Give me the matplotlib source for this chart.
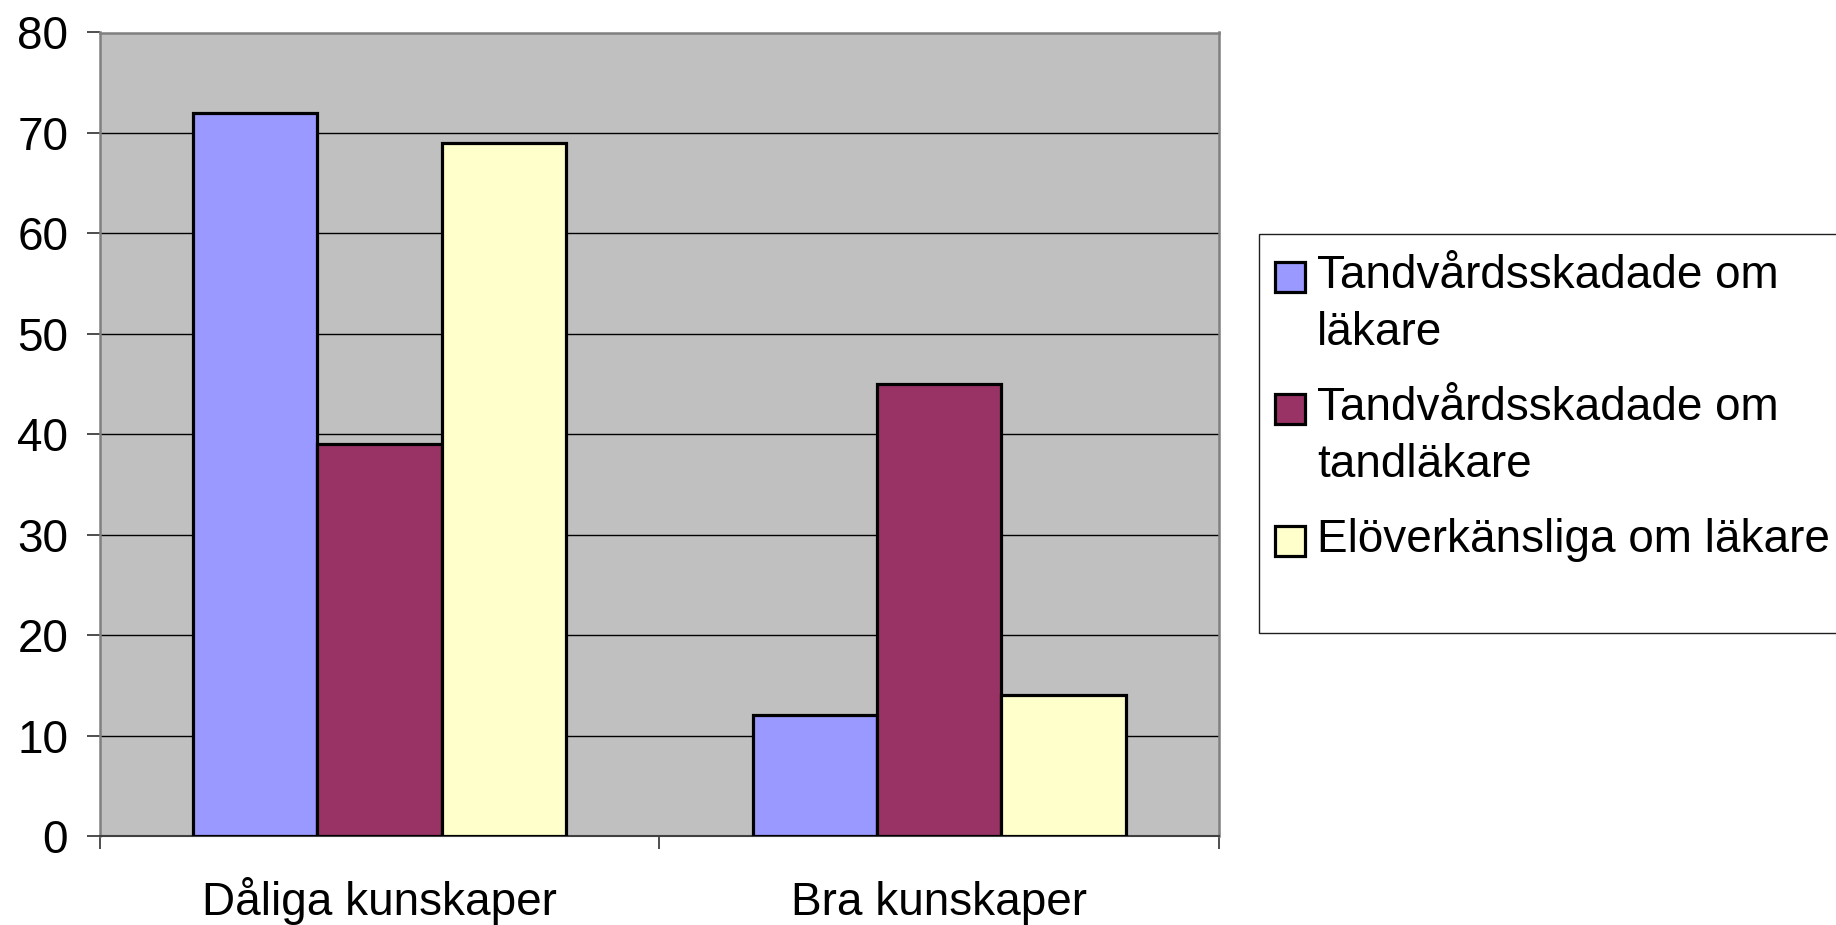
import matplotlib
matplotlib.use("Agg")
import matplotlib.pyplot as plt
from matplotlib.patches import Rectangle
import numpy as np

plt.rcParams['font.family'] = ['Liberation Sans', 'DejaVu Sans']

categories = ['Dåliga kunskaper', 'Bra kunskaper']
series_names = ['Tandvårdsskadade om\nläkare',
                'Tandvårdsskadade om\ntandläkare',
                'Elöverkänsliga om läkare']
values_lakare = [72, 12]
values_tandlakare = [39, 45]
values_elo = [69, 14]
colors = ['#9999FF', '#993366', '#FFFFCC']
yticks = [0, 10, 20, 30, 40, 50, 60, 70, 80]

W, H = 1836, 925
fig = plt.figure(figsize=(W / 100, H / 100), dpi=100)

# plot area in pixels (left, top, right, bottom)
L, T, R, B = 99.5, 32.5, 1219, 836
ax = fig.add_axes([L / W, 1 - B / H, (R - L) / W, (B - T) / H])
ax.set_facecolor('#C0C0C0')

x = np.arange(len(categories))
w = 2 / 9
all_vals = [values_lakare, values_tandlakare, values_elo]
for j, vals in enumerate(all_vals):
    ax.bar(x + (j - 1) * w, vals, width=w, color=colors[j],
           edgecolor='black', linewidth=2.3, zorder=3)

ax.set_xlim(-0.5, len(categories) - 0.5)
ax.set_ylim(0, 80)
ax.set_yticks(yticks)
ax.set_yticklabels([str(v) for v in yticks], fontsize=33)
ax.yaxis.grid(True, color='black', linewidth=1.0)
ax.set_axisbelow(True)

ax.set_xticks(np.arange(len(categories) + 1) - 0.5)
ax.set_xticklabels([])
ax.set_xticks(x, minor=True)
ax.set_xticklabels(categories, minor=True, fontsize=33)
for lbl in ax.get_xticklabels(minor=True):
    lbl.set_verticalalignment('baseline')
ax.tick_params(axis='x', which='major', direction='out', length=9, width=1.2, color='#303030')
ax.tick_params(axis='x', which='minor', length=0, pad=57)
ax.tick_params(axis='y', direction='out', length=9.5, width=1.2, color='#303030', pad=13)

for side in ['left', 'top', 'right']:
    ax.spines[side].set_color('#808080')
    ax.spines[side].set_linewidth(1.8)
ax.spines['bottom'].set_color('#404040')
ax.spines['bottom'].set_linewidth(1.5)


def fx(px):
    return px / W


def fy(py):
    return 1 - py / H


# legend frame
fig.patches.append(Rectangle((fx(1259), fy(633)), fx(1900) - fx(1259), fy(234) - fy(633),
                             transform=fig.transFigure, facecolor='white',
                             edgecolor='#202020', linewidth=1.0, zorder=1))

baselines = [288, 420, 552]
line_step = 57
for j, name in enumerate(series_names):
    by = baselines[j]
    fig.patches.append(Rectangle((fx(1275), fy(by + 4)), fx(1305) - fx(1275), fy(by - 26) - fy(by + 4),
                                 transform=fig.transFigure, facecolor=colors[j],
                                 edgecolor='black', linewidth=2.3, zorder=2))
    for k, line in enumerate(name.split('\n')):
        fig.text(fx(1317), fy(by + k * line_step), line, fontsize=33,
                 va='baseline', ha='left', zorder=3)

fig.savefig('out.png', dpi=100)
